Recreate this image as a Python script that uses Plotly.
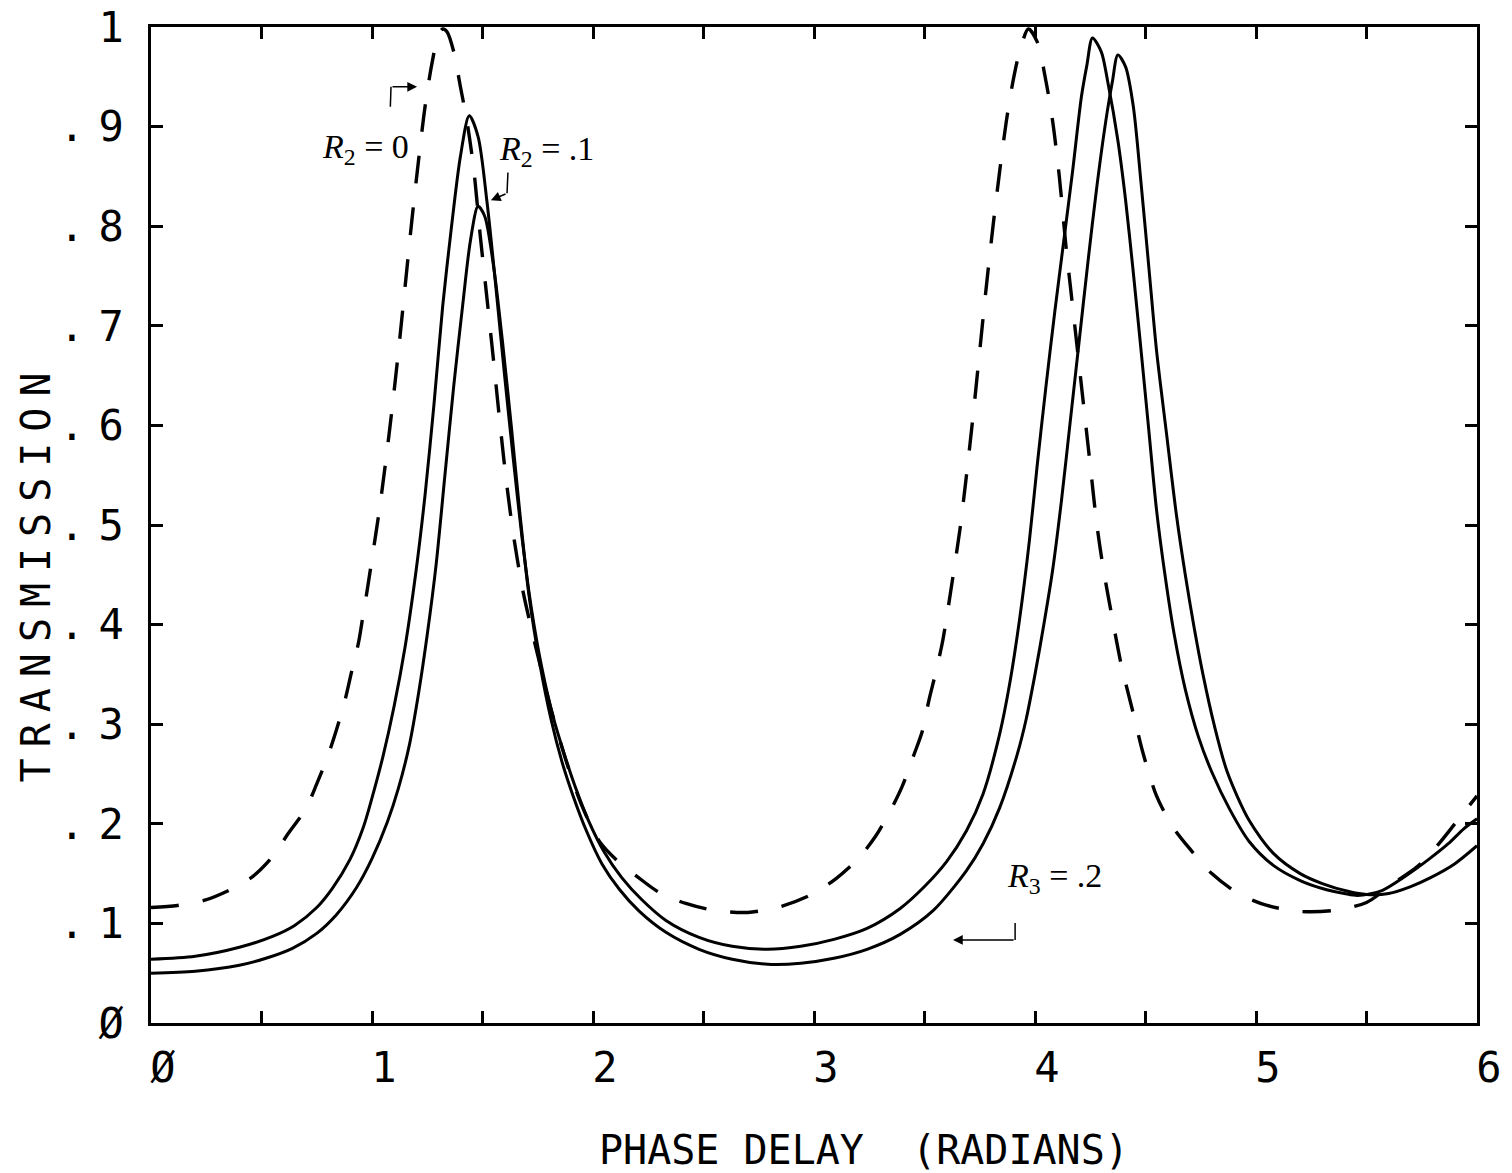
import plotly.graph_objects as go

# ---------------- data ----------------
phase_r2_0 = [0, 0.12, 0.24, 0.36, 0.46, 0.55, 0.62, 0.70, 0.75, 0.80, 0.84, 0.88, 0.91, 0.94, 0.96, 0.98,
              1.00, 1.03, 1.06, 1.09, 1.12, 1.15, 1.18, 1.21, 1.24, 1.27, 1.30, 1.32,
              1.34, 1.37, 1.40, 1.43, 1.46, 1.49, 1.52, 1.55, 1.58, 1.61, 1.64, 1.68, 1.72, 1.76, 1.81,
              1.88, 1.95, 2.03, 2.11, 2.20, 2.30, 2.42, 2.55, 2.70, 2.85, 2.98, 3.10, 3.20, 3.28, 3.35,
              3.40, 3.45, 3.49, 3.52, 3.55, 3.58, 3.60, 3.63, 3.66, 3.69, 3.72, 3.75, 3.78, 3.81, 3.84,
              3.87, 3.90, 3.93, 3.97, 4.01, 4.05, 4.08, 4.11, 4.14, 4.17, 4.20, 4.23,
              4.25, 4.28, 4.31, 4.35, 4.39, 4.44, 4.49, 4.55, 4.62, 4.70, 4.80, 4.92, 5.05, 5.20, 5.35,
              5.50, 5.62, 5.73, 5.82, 5.90, 6.00]
trans_r2_0 = [0.116, 0.118, 0.123, 0.134, 0.147, 0.167, 0.19, 0.215, 0.24, 0.268, 0.295, 0.326, 0.355, 0.383,
              0.41, 0.437, 0.466, 0.51, 0.56, 0.615, 0.675, 0.74, 0.805, 0.865, 0.92, 0.962, 0.992, 0.998,
              0.995, 0.975, 0.94, 0.905, 0.858, 0.79, 0.728, 0.665, 0.60, 0.54, 0.49, 0.437, 0.397, 0.36,
              0.315, 0.262, 0.218, 0.182, 0.163, 0.147, 0.131, 0.12, 0.113, 0.111, 0.117,
              0.128, 0.145, 0.165, 0.188, 0.215, 0.238, 0.268, 0.293, 0.324, 0.351, 0.381, 0.407,
              0.45, 0.495, 0.55, 0.61, 0.675, 0.74, 0.80, 0.855, 0.905, 0.945, 0.975, 0.998,
              0.985, 0.945, 0.905, 0.85, 0.78, 0.72, 0.66, 0.60, 0.56, 0.50, 0.455, 0.406, 0.36, 0.315,
              0.27, 0.228, 0.198, 0.175, 0.15, 0.13, 0.118, 0.112, 0.113, 0.121, 0.14, 0.157, 0.178, 0.20,
              0.228]

phase_r2_1 = [0, 0.2, 0.4, 0.55, 0.65, 0.75, 0.82, 0.90, 0.96, 1.00, 1.05, 1.10, 1.15, 1.20, 1.24, 1.28,
              1.32, 1.36, 1.40, 1.44, 1.48, 1.52, 1.56, 1.60, 1.64, 1.68, 1.72, 1.77, 1.82, 1.87, 1.92,
              1.98, 2.05, 2.13, 2.22, 2.33, 2.48, 2.63, 2.79, 2.94, 3.09, 3.24, 3.39, 3.50, 3.60, 3.69,
              3.765, 3.84, 3.885, 3.93, 3.975, 4.01, 4.05, 4.09, 4.13, 4.17, 4.21, 4.235, 4.26, 4.30,
              4.33, 4.375, 4.41, 4.445, 4.48, 4.515, 4.55, 4.59, 4.63, 4.68, 4.74, 4.80, 4.88, 4.97,
              5.08, 5.20, 5.30, 5.40, 5.46, 5.57, 5.68, 5.78, 5.87, 5.94, 6.00]
trans_r2_1 = [0.064, 0.067, 0.076, 0.087, 0.098, 0.116, 0.135, 0.164, 0.196, 0.226, 0.268, 0.318, 0.378,
              0.455, 0.53, 0.62, 0.72, 0.80, 0.87, 0.911, 0.89, 0.825, 0.74, 0.65, 0.565, 0.485, 0.418,
              0.355, 0.307, 0.27, 0.237, 0.203, 0.172, 0.146, 0.124, 0.103, 0.086, 0.077, 0.074, 0.077,
              0.084, 0.095, 0.115, 0.137, 0.162, 0.193, 0.23, 0.29, 0.34, 0.405, 0.485, 0.56, 0.64,
              0.715, 0.785, 0.855, 0.93, 0.962, 0.989, 0.975, 0.944, 0.886, 0.826, 0.753, 0.675, 0.595,
              0.515, 0.447, 0.39, 0.335, 0.287, 0.252, 0.215, 0.182, 0.158, 0.143, 0.135, 0.13, 0.128,
              0.133, 0.148, 0.164, 0.18, 0.195, 0.205]

phase_r3_2 = [0, 0.2, 0.4, 0.52, 0.64, 0.75, 0.84, 0.93, 1.00, 1.07, 1.12, 1.17, 1.21, 1.25, 1.29, 1.33,
              1.37, 1.41, 1.445, 1.48, 1.51, 1.55, 1.59, 1.63, 1.67, 1.71, 1.76, 1.81, 1.86, 1.91, 1.97,
              2.04, 2.12, 2.21, 2.33, 2.48, 2.63, 2.79, 2.94, 3.09, 3.24, 3.39, 3.54, 3.69, 3.765, 3.84,
              3.92, 3.96, 4.00, 4.04, 4.08, 4.12, 4.16, 4.20, 4.24, 4.28, 4.32, 4.35, 4.375, 4.41, 4.445,
              4.48, 4.515, 4.55, 4.595, 4.64, 4.68, 4.72, 4.76, 4.81, 4.87, 4.97, 5.08, 5.20, 5.30, 5.42,
              5.50, 5.60, 5.70, 5.79, 5.90, 6.00]
trans_r3_2 = [0.050, 0.052, 0.058, 0.065, 0.075, 0.09, 0.109, 0.136, 0.165, 0.202, 0.236, 0.28, 0.33, 0.39,
              0.46, 0.55, 0.64, 0.72, 0.785, 0.82, 0.81, 0.76, 0.685, 0.60, 0.51, 0.43, 0.36, 0.305,
              0.262, 0.228, 0.193, 0.16, 0.134, 0.112, 0.091, 0.074, 0.064, 0.059, 0.06, 0.065, 0.074,
              0.089, 0.113, 0.153, 0.18, 0.216, 0.27, 0.305, 0.35, 0.40, 0.455, 0.525, 0.605, 0.685,
              0.765, 0.84, 0.905, 0.945, 0.972, 0.96, 0.92, 0.843, 0.759, 0.675, 0.592, 0.51, 0.45,
              0.397, 0.35, 0.30, 0.252, 0.203, 0.17, 0.15, 0.14, 0.132, 0.129, 0.13, 0.137, 0.146, 0.16,
              0.178]

x_tick_vals = [0, 0.5, 1, 1.5, 2, 2.5, 3, 3.5, 4, 4.5, 5, 5.5, 6]
x_tick_text = ["Ø", "", "1", "", "2", "", "3", "", "4", "", "5", "", "6"]
y_tick_vals = [0, 0.1, 0.2, 0.3, 0.4, 0.5, 0.6, 0.7, 0.8, 0.9, 1.0]
y_tick_text = ["Ø", ".1", ".2", ".3", ".4", ".5", ".6", ".7", ".8", ".9", "1"]

x_title = "PHASE DELAY  (RADIANS)"
y_title = "TRANSMISSION"

# ---------------- figure ----------------
PLOT_FONT = "DejaVu Sans Mono"
SERIF = "Liberation Serif"


def spaced(s, sp):
    return '<span style="letter-spacing:%dpx">%s</span>' % (sp, s) if s else ""


fig = go.Figure()
fig.add_trace(go.Scatter(x=phase_r2_0, y=trans_r2_0, mode="lines", name="R2 = 0",
                         line=dict(color="black", width=3.4, dash="28px,24px", shape="spline", smoothing=0.8)))
fig.add_trace(go.Scatter(x=phase_r2_1, y=trans_r2_1, mode="lines", name="R2 = .1",
                         line=dict(color="black", width=3, shape="spline", smoothing=0.8)))
fig.add_trace(go.Scatter(x=phase_r3_2, y=trans_r3_2, mode="lines", name="R3 = .2",
                         line=dict(color="black", width=3, shape="spline", smoothing=0.8)))

axis_common = dict(showgrid=False, zeroline=False, showline=True, linecolor="black", linewidth=2.5,
                   mirror="ticks", ticks="inside", ticklen=12, tickwidth=2.5, tickcolor="black",
                   automargin=False, tickfont=dict(family=PLOT_FONT, size=42, color="black"))

fig.update_xaxes(range=[0, 6], tickmode="array", tickvals=x_tick_vals,
                 ticktext=x_tick_text, ticklabelshift=12, ticklabelstandoff=6, **axis_common)
fig.update_yaxes(range=[0, 1], tickmode="array", tickvals=y_tick_vals,
                 ticktext=[spaced(t, 14) for t in y_tick_text], ticklabelstandoff=2, **axis_common)

annotations = [
    dict(x=0.538, y=-0.128, xref="paper", yref="paper", text=x_title, showarrow=False,
         font=dict(family=PLOT_FONT, size=40, color="black"), xanchor="center", yanchor="middle"),
    dict(x=-0.087, y=0.453, xref="paper", yref="paper", text=spaced(y_title, 11), showarrow=False,
         textangle=-90, font=dict(family=PLOT_FONT, size=40, color="black"),
         xanchor="center", yanchor="middle"),
    dict(x=0.97, y=0.878, text="<i>R</i><sub>2</sub> = 0", showarrow=False,
         font=dict(family=SERIF, size=34, color="black"), xanchor="center", yanchor="middle"),
    dict(x=1.79, y=0.876, text="<i>R</i><sub>2</sub> = .1", showarrow=False,
         font=dict(family=SERIF, size=34, color="black"), xanchor="center", yanchor="middle"),
    dict(x=4.09, y=0.146, text="<i>R</i><sub>3</sub> = .2", showarrow=False,
         font=dict(family=SERIF, size=34, color="black"), xanchor="center", yanchor="middle"),
    # hooked arrows
    dict(x=1.204, y=0.94, ax=1.086, ay=0.94, axref="x", ayref="y", showarrow=True,
         arrowhead=2, arrowsize=1.3, arrowwidth=1.5, arrowcolor="black", text=""),
    dict(x=1.538, y=0.826, ax=1.611, ay=0.833, axref="x", ayref="y", showarrow=True,
         arrowhead=2, arrowsize=1.3, arrowwidth=1.5, arrowcolor="black", text=""),
    dict(x=3.629, y=0.0834, ax=3.91, ay=0.0834, axref="x", ayref="y", showarrow=True,
         arrowhead=2, arrowsize=1.3, arrowwidth=1.5, arrowcolor="black", text=""),
]
shapes = [
    dict(type="line", x0=1.083, y0=0.92, x1=1.086, y1=0.94, line=dict(color="black", width=1.5)),
    dict(type="line", x0=1.615, y0=0.854, x1=1.611, y1=0.833, line=dict(color="black", width=1.5)),
    dict(type="line", x0=3.91, y0=0.1005, x1=3.91, y1=0.0834, line=dict(color="black", width=1.5)),
]

fig.update_layout(width=1512, height=1173, margin=dict(l=151, r=35, t=27, b=150),
                  plot_bgcolor="white", paper_bgcolor="white", showlegend=False,
                  annotations=annotations, shapes=shapes)

fig.write_html("out.html")
